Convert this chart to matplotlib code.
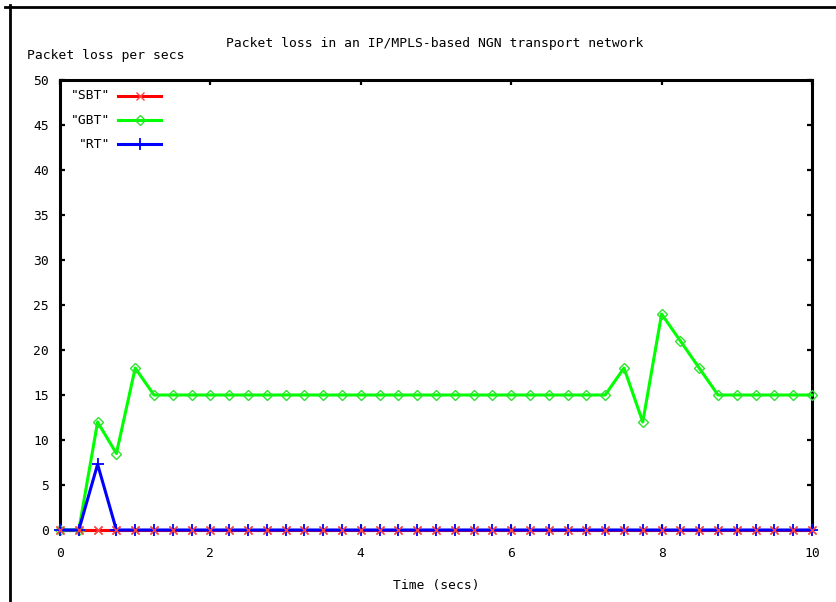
import matplotlib
matplotlib.use("Agg")
import matplotlib.pyplot as plt
from matplotlib.lines import Line2D

# Time axis: samples every 0.25 s from 0 to 10 s
time_start = 0.0
time_step = 0.25
n_samples = 41
times = [time_start + i * time_step for i in range(n_samples)]

sbt_loss = [0.0] * n_samples

gbt_loss = [0, 0, 12, 8.5, 18, 15, 15, 15, 15, 15,
            15, 15, 15, 15, 15, 15, 15, 15, 15, 15,
            15, 15, 15, 15, 15, 15, 15, 15, 15, 15,
            18, 12, 24, 21, 18, 15, 15, 15, 15, 15,
            15]

rt_loss = [0, 0, 7.3, 0] + [0] * (n_samples - 4)

series_names = ['"SBT"', '"GBT"', '"RT"']

x_ticks = [0, 2, 4, 6, 8, 10]
y_ticks = [0, 5, 10, 15, 20, 25, 30, 35, 40, 45, 50]

W, H = 837, 602
font = {"family": "DejaVu Sans Mono", "size": 9.4}

fig = plt.figure(figsize=(W / 100, H / 100), dpi=100)
fig.patch.set_facecolor("white")
ax = fig.add_axes([60 / W, 1 - 530 / H, (812 - 60) / W, (530 - 80) / H])

styles = [
    dict(color="#ff0000", marker="x", mec="#ff4040", ms=6, mew=1.0),
    dict(color="#00ff00", marker="D", mfc="none", mec="#30e030", ms=5, mew=1.0),
    dict(color="#0000ff", marker="+", mec="#0000ff", ms=8, mew=1.3),
]
data = [sbt_loss, gbt_loss, rt_loss]
zorders = [3, 3.5, 4]
for vals, st, z in zip(data, styles, zorders):
    ax.plot(times, vals, lw=2.2, clip_on=False, zorder=z, **st)
# red crosses stay visible on top of the blue line at zero
ax.plot(times, sbt_loss, lw=0, clip_on=False, zorder=5,
        marker="x", mec="#ff4040", ms=6, mew=1.0)

ax.set_xlim(0, 10)
ax.set_ylim(0, 50)
ax.set_xticks(x_ticks)
ax.set_yticks(y_ticks)
ax.set_xticklabels([str(t) for t in x_ticks], fontdict=font)
ax.set_yticklabels([str(t) for t in y_ticks], fontdict=font)
ax.tick_params(direction="in", length=3.5, width=1.6, top=True, right=True,
               colors="black", pad=8)
ax.tick_params(axis="x", pad=12)
for s in ax.spines.values():
    s.set_linewidth(2.2)
    s.set_color("black")
    s.set_zorder(2)

ax.set_xlabel("Time (secs)", fontdict=font, labelpad=14)
fig.text(435 / W, 1 - 43 / H, "Packet loss in an IP/MPLS-based NGN transport network",
         ha="center", va="center", **font)
fig.text(27 / W, 1 - 55 / H, "Packet loss per secs", ha="left", va="center", **font)

# Key in the upper left corner: label right-aligned, then a line sample
key_rows = [96, 120, 144]
for name, st, yp in zip(series_names, styles, key_rows):
    yf = 1 - yp / H
    fig.text(110 / W, yf, name, ha="right", va="center", **font)
    fig.add_artist(Line2D([118 / W, 161 / W], [yf, yf], color=st["color"], lw=2.2))
    mk = {k: v for k, v in st.items() if k != "color"}
    fig.add_artist(Line2D([140 / W], [yf], lw=0, **mk))

# Window frame lines along the top and left edges
fig.add_artist(Line2D([5 / W, 1], [1 - 6.5 / H, 1 - 6.5 / H], color="black", lw=2))
fig.add_artist(Line2D([9.5 / W, 9.5 / W], [0, 1 - 5 / H], color="black", lw=2))

fig.savefig("out.png", dpi=100)
